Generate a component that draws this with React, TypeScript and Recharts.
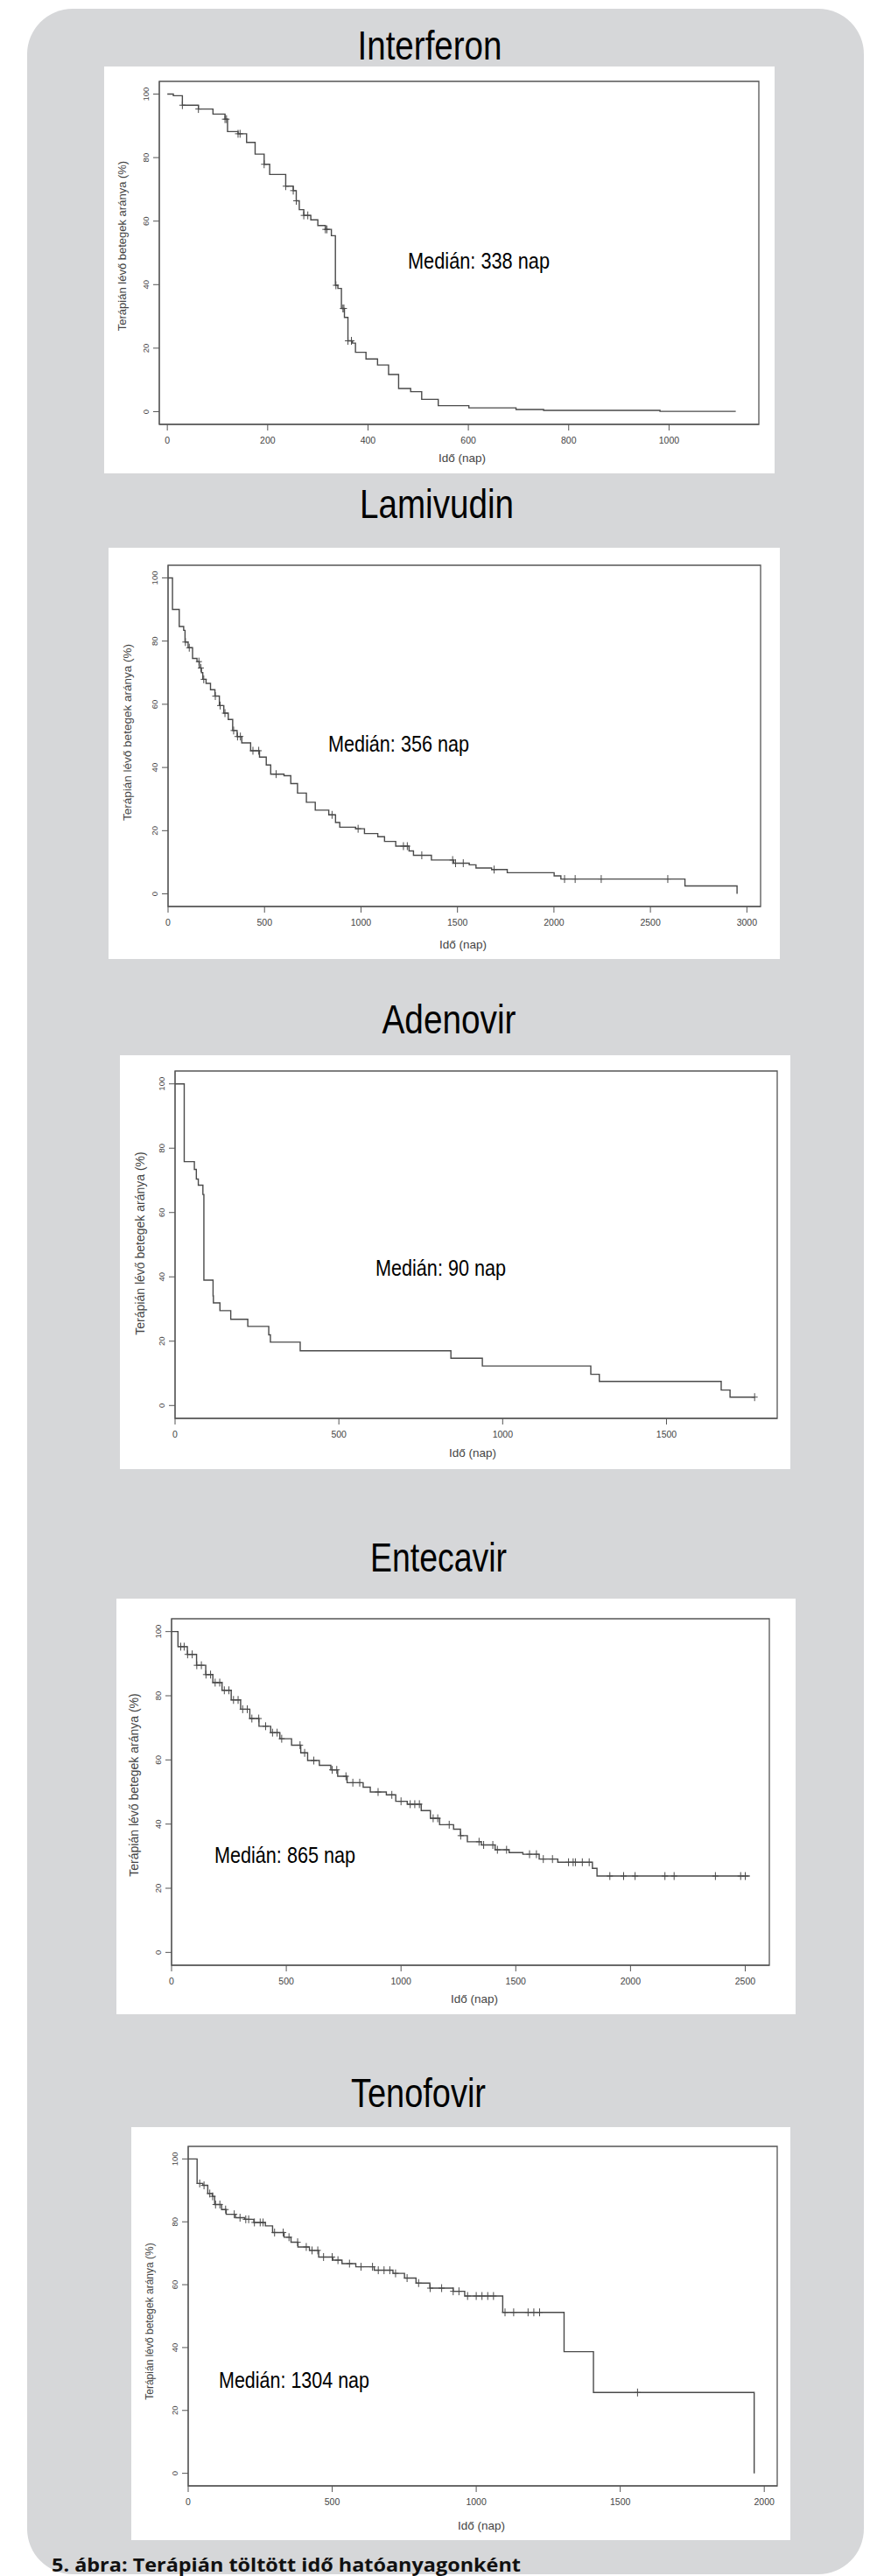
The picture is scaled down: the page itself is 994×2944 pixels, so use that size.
import { ComposedChart, Line, ReferenceArea, Scatter, XAxis, YAxis } from "recharts";

// Kaplan–Meier step curves: day of each step and % still on therapy after it
const interferonDays = [0, 12, 30, 62, 91, 115, 120, 141, 158, 175, 193, 204, 236, 251, 257, 263, 272, 286, 300, 315, 327, 335, 340, 347, 353, 360, 369, 375, 396, 419, 441, 461, 485, 507, 540, 601, 695, 750, 982, 1133];
const interferonPct = [100, 99.5, 96.5, 95.3, 93.7, 92.1, 88.2, 87.5, 84.8, 81.1, 77.9, 74.7, 71.0, 69.6, 66.4, 63.6, 61.8, 60.4, 58.6, 57.4, 55.4, 39.8, 38.8, 32.5, 29.7, 22.3, 21.6, 18.7, 16.6, 14.7, 11.7, 7.3, 6.3, 3.9, 1.9, 1.2, 0.7, 0.4, 0.1, 0.1];
const interferonCensored = [30, 62, 115, 118, 141, 145, 193, 236, 251, 257, 272, 280, 315, 318, 336, 350, 352, 360, 367];
const interferonTicks = [0, 200, 400, 600, 800, 1000];

const lamivudinDays = [0, 23, 58, 81, 88, 104, 127, 150, 162, 173, 180, 197, 220, 243, 266, 289, 312, 335, 358, 382, 428, 474, 509, 532, 601, 636, 671, 717, 763, 833, 868, 890, 972, 1018, 1087, 1122, 1180, 1249, 1272, 1365, 1480, 1561, 1596, 1677, 1758, 2001, 2036, 2679, 2949];
const lamivudinPct = [100, 90.0, 84.6, 83.4, 79.7, 77.9, 74.5, 73.5, 71.5, 70.0, 67.9, 66.6, 64.6, 62.6, 59.6, 57.2, 55.2, 51.7, 49.8, 47.8, 45.3, 43.3, 40.8, 37.9, 37.4, 34.9, 31.9, 29.0, 26.5, 25.0, 22.6, 21.1, 20.6, 19.1, 18.1, 16.6, 15.1, 13.6, 12.2, 10.7, 9.7, 9.2, 8.2, 7.7, 6.7, 5.7, 4.7, 2.5, 0];
const lamivudinCensored = [90, 110, 160, 170, 185, 245, 270, 295, 340, 360, 375, 440, 470, 560, 850, 985, 1220, 1240, 1315, 1475, 1490, 1530, 1690, 2055, 2110, 2245, 2590];
const lamivudinTicks = [0, 500, 1000, 1500, 2000, 2500, 3000];

const adenovirDays = [0, 28, 59, 65, 71, 85, 88, 116, 117, 137, 170, 222, 286, 291, 382, 842, 938, 1269, 1295, 1667, 1694, 1769];
const adenovirPct = [100, 75.8, 73.4, 70.4, 68.5, 65.6, 39.0, 34.1, 31.9, 29.5, 26.8, 24.6, 22.0, 19.7, 17.0, 14.7, 12.3, 9.7, 7.5, 4.8, 2.6, 2.6];
const adenovirCensored = [1769];
const adenovirTicks = [0, 500, 1000, 1500];

const entecavirDays = [0, 28, 69, 109, 149, 180, 220, 260, 301, 341, 381, 432, 472, 523, 563, 593, 644, 694, 724, 765, 835, 866, 936, 977, 1027, 1088, 1128, 1168, 1229, 1259, 1289, 1350, 1410, 1471, 1531, 1602, 1683, 1834, 1854, 2520];
const entecavirPct = [100, 95.3, 92.9, 89.5, 86.6, 84.1, 81.7, 78.7, 75.8, 72.9, 70.5, 68.5, 66.6, 64.6, 62.2, 59.8, 58.3, 56.9, 54.9, 52.9, 51.5, 50.0, 49.1, 47.1, 46.2, 44.2, 41.8, 39.8, 38.4, 36.4, 34.5, 33.5, 32.0, 31.1, 30.6, 29.1, 28.1, 26.2, 23.8, 23.8];
const entecavirCensored = [40, 55, 70, 90, 110, 130, 150, 170, 190, 210, 230, 250, 270, 290, 310, 330, 350, 380, 410, 440, 460, 480, 560, 580, 620, 700, 720, 760, 790, 820, 900, 960, 1000, 1040, 1060, 1080, 1140, 1160, 1210, 1260, 1340, 1360, 1400, 1420, 1460, 1560, 1590, 1620, 1660, 1730, 1750, 1760, 1790, 1820, 1910, 1970, 2020, 2150, 2190, 2370, 2480, 2500];
const entecavirTicks = [0, 500, 1000, 1500, 2000, 2500];

const tenofovirDays = [0, 31, 51, 68, 84, 92, 116, 132, 164, 196, 228, 268, 293, 333, 357, 381, 421, 453, 502, 534, 582, 646, 711, 751, 791, 839, 920, 960, 1092, 1305, 1407, 1965];
const tenofovirPct = [100, 92.2, 91.6, 89.0, 88.1, 85.5, 83.9, 82.4, 81.3, 80.8, 79.8, 78.7, 76.6, 75.1, 73.5, 72.0, 70.9, 68.8, 67.8, 66.7, 65.7, 64.6, 63.6, 62.1, 60.5, 58.9, 57.9, 56.4, 51.2, 38.7, 25.7, 0];
const tenofovirCensored = [40, 55, 75, 85, 95, 110, 130, 160, 180, 200, 210, 230, 250, 260, 300, 330, 350, 380, 410, 430, 450, 470, 500, 520, 560, 600, 640, 660, 680, 700, 720, 760, 800, 840, 880, 920, 940, 970, 1000, 1020, 1040, 1060, 1100, 1130, 1180, 1200, 1220, 1560];
const tenofovirTicks = [0, 500, 1000, 1500, 2000];

const pctTicks = [0, 20, 40, 60, 80, 100];

const SANS = '"Liberation Sans", Arial, sans-serif';
const INK = "#4a4a4a";

const toSteps = (days: number[], pct: number[]) => days.map((t, i) => ({ t, v: pct[i] }));

// value of the step curve at a censoring time
const valueAt = (days: number[], pct: number[], t: number) => {
  let v = pct[0];
  days.forEach((d, i) => {
    if (d <= t) v = pct[i];
  });
  return v;
};

const toMarks = (days: number[], pct: number[], cens: number[]) =>
  cens.map((t) => ({ t, v: valueAt(days, pct, t) }));

// titleAt / medianAt: [x, baseline, width] — the original uses a condensed face
const panels = [
  {
    title: "Interferon", median: "Medián: 338 nap",
    days: interferonDays, pct: interferonPct, censored: interferonCensored, ticks: interferonTicks, domain: [-16, 1179],
    box: { left: 119, top: 76, width: 766, height: 465 }, margin: { top: 17, right: 18, bottom: 26, left: 23 },
    titleAt: [491, 68, 165], medianAt: [466, 307, 162], xLabelAt: [528, 528], yLabelAt: [144, 281], yLabelSize: 13,
  },
  {
    title: "Lamivudin", median: "Medián: 356 nap",
    days: lamivudinDays, pct: lamivudinPct, censored: lamivudinCensored, ticks: lamivudinTicks, domain: [0, 3071],
    box: { left: 124, top: 626, width: 767, height: 470 }, margin: { top: 20, right: 22, bottom: 30, left: 28 },
    titleAt: [499, 592, 176], medianAt: [375, 859, 161], xLabelAt: [529, 1084], yLabelAt: [150, 837], yLabelSize: 13.5,
  },
  {
    title: "Adenovir", median: "Medián: 90 nap",
    days: adenovirDays, pct: adenovirPct, censored: adenovirCensored, ticks: adenovirTicks, domain: [0, 1838],
    box: { left: 137, top: 1206, width: 766, height: 473 }, margin: { top: 18, right: 15, bottom: 28, left: 23 },
    titleAt: [513, 1181, 153], medianAt: [429, 1458, 149], xLabelAt: [540, 1665], yLabelAt: [165, 1421], yLabelSize: 14,
  },
  {
    title: "Entecavir", median: "Medián: 865 nap",
    days: entecavirDays, pct: entecavirPct, censored: entecavirCensored, ticks: entecavirTicks, domain: [0, 2605],
    box: { left: 133, top: 1827, width: 776, height: 475 }, margin: { top: 23, right: 30, bottom: 26, left: 23 },
    titleAt: [501, 1796, 156], medianAt: [245, 2129, 161], xLabelAt: [542, 2289], yLabelAt: [158, 2040], yLabelSize: 14,
  },
  {
    title: "Tenofovir", median: "Medián: 1304 nap",
    days: tenofovirDays, pct: tenofovirPct, censored: tenofovirCensored, ticks: tenofovirTicks, domain: [0, 2045],
    box: { left: 150, top: 2431, width: 753, height: 472 }, margin: { top: 22, right: 15, bottom: 32, left: 25 },
    titleAt: [478, 2408, 154], medianAt: [250, 2729, 172], xLabelAt: [550, 2891], yLabelAt: [175, 2653], yLabelSize: 12,
  },
];

function PctTick(props: any) {
  const { x, y, payload } = props;
  return (
    <text
      x={x}
      y={y}
      transform={`rotate(-90 ${x} ${y})`}
      textAnchor="middle"
      fontSize={9.5}
      fontFamily={SANS}
      fill="#444"
    >
      {payload.value}
    </text>
  );
}

function CensorMark(props: any) {
  const { cx, cy } = props;
  if (cx == null || cy == null) return null;
  return (
    <path
      d={`M${cx},${cy - 4.5}V${cy + 4.5}M${cx - 3.5},${cy}H${cx + 3.5}`}
      stroke={INK}
      strokeWidth={1}
      fill="none"
    />
  );
}

export default function App() {
  return (
    <div
      style={{
        position: "absolute",
        left: 0,
        top: 0,
        width: 994,
        height: 2944,
        overflow: "hidden",
        background: "#fff",
      }}
    >
      <div
        style={{
          position: "absolute",
          left: 31,
          top: 10,
          width: 956,
          height: 2932,
          background: "#d6d7d9",
          borderRadius: 52,
        }}
      />
      {panels.map((p) => (
        <div
          key={p.title}
          style={{ position: "absolute", ...p.box, background: "#fff" }}
        >
          <ComposedChart width={p.box.width} height={p.box.height} margin={p.margin}>
            <XAxis
              type="number"
              dataKey="t"
              domain={p.domain}
              ticks={p.ticks}
              interval={0}
              allowDataOverflow
              height={30}
              tickSize={7}
              tickMargin={8}
              stroke="#555"
              tick={{ fontSize: 10.5, fill: "#444", fontFamily: SANS }}
            />
            <YAxis
              type="number"
              dataKey="v"
              domain={[-4, 104]}
              ticks={pctTicks}
              interval={0}
              allowDataOverflow
              width={40}
              tickSize={7}
              tickMargin={5}
              stroke="#555"
              tick={<PctTick />}
            />
            <ReferenceArea
              x1={p.domain[0]}
              x2={p.domain[1]}
              y1={-4}
              y2={104}
              fill="none"
              stroke="#555"
              strokeWidth={1.3}
              ifOverflow="visible"
            />
            <Line
              data={toSteps(p.days, p.pct)}
              dataKey="v"
              type="stepAfter"
              dot={false}
              stroke={INK}
              strokeWidth={1.4}
              isAnimationActive={false}
            />
            <Scatter
              data={toMarks(p.days, p.pct, p.censored)}
              dataKey="v"
              shape={CensorMark}
              isAnimationActive={false}
            />
          </ComposedChart>
        </div>
      ))}
      <svg
        width={994}
        height={2944}
        style={{ position: "absolute", left: 0, top: 0, pointerEvents: "none" }}
      >
        {panels.map((p) => (
          <g key={p.title}>
            <text
              x={p.titleAt[0]}
              y={p.titleAt[1]}
              textAnchor="middle"
              fontSize={46}
              fontFamily={SANS}
              textLength={p.titleAt[2]}
              lengthAdjust="spacingAndGlyphs"
              fill="#000"
            >
              {p.title}
            </text>
            <text
              x={p.medianAt[0]}
              y={p.medianAt[1]}
              fontSize={26}
              fontFamily={SANS}
              textLength={p.medianAt[2]}
              lengthAdjust="spacingAndGlyphs"
              fill="#000"
            >
              {p.median}
            </text>
            <text x={p.xLabelAt[0]} y={p.xLabelAt[1]} textAnchor="middle" fontSize={13.5} fontFamily={SANS} fill="#444">
              Idő (nap)
            </text>
            <text
              x={p.yLabelAt[0]}
              y={p.yLabelAt[1]}
              transform={`rotate(-90 ${p.yLabelAt[0]} ${p.yLabelAt[1]})`}
              textAnchor="middle"
              fontSize={p.yLabelSize}
              fontFamily={SANS}
              fill="#444"
            >
              Terápián lévő betegek aránya (%)
            </text>
          </g>
        ))}
        <text
          x={59}
          y={2939}
          fontSize={22}
          fontWeight={700}
          fontFamily='"Open Sans", sans-serif'
          textLength={536}
          lengthAdjust="spacingAndGlyphs"
          fill="#111"
        >
          5. ábra: Terápián töltött idő hatóanyagonként
        </text>
      </svg>
    </div>
  );
}
